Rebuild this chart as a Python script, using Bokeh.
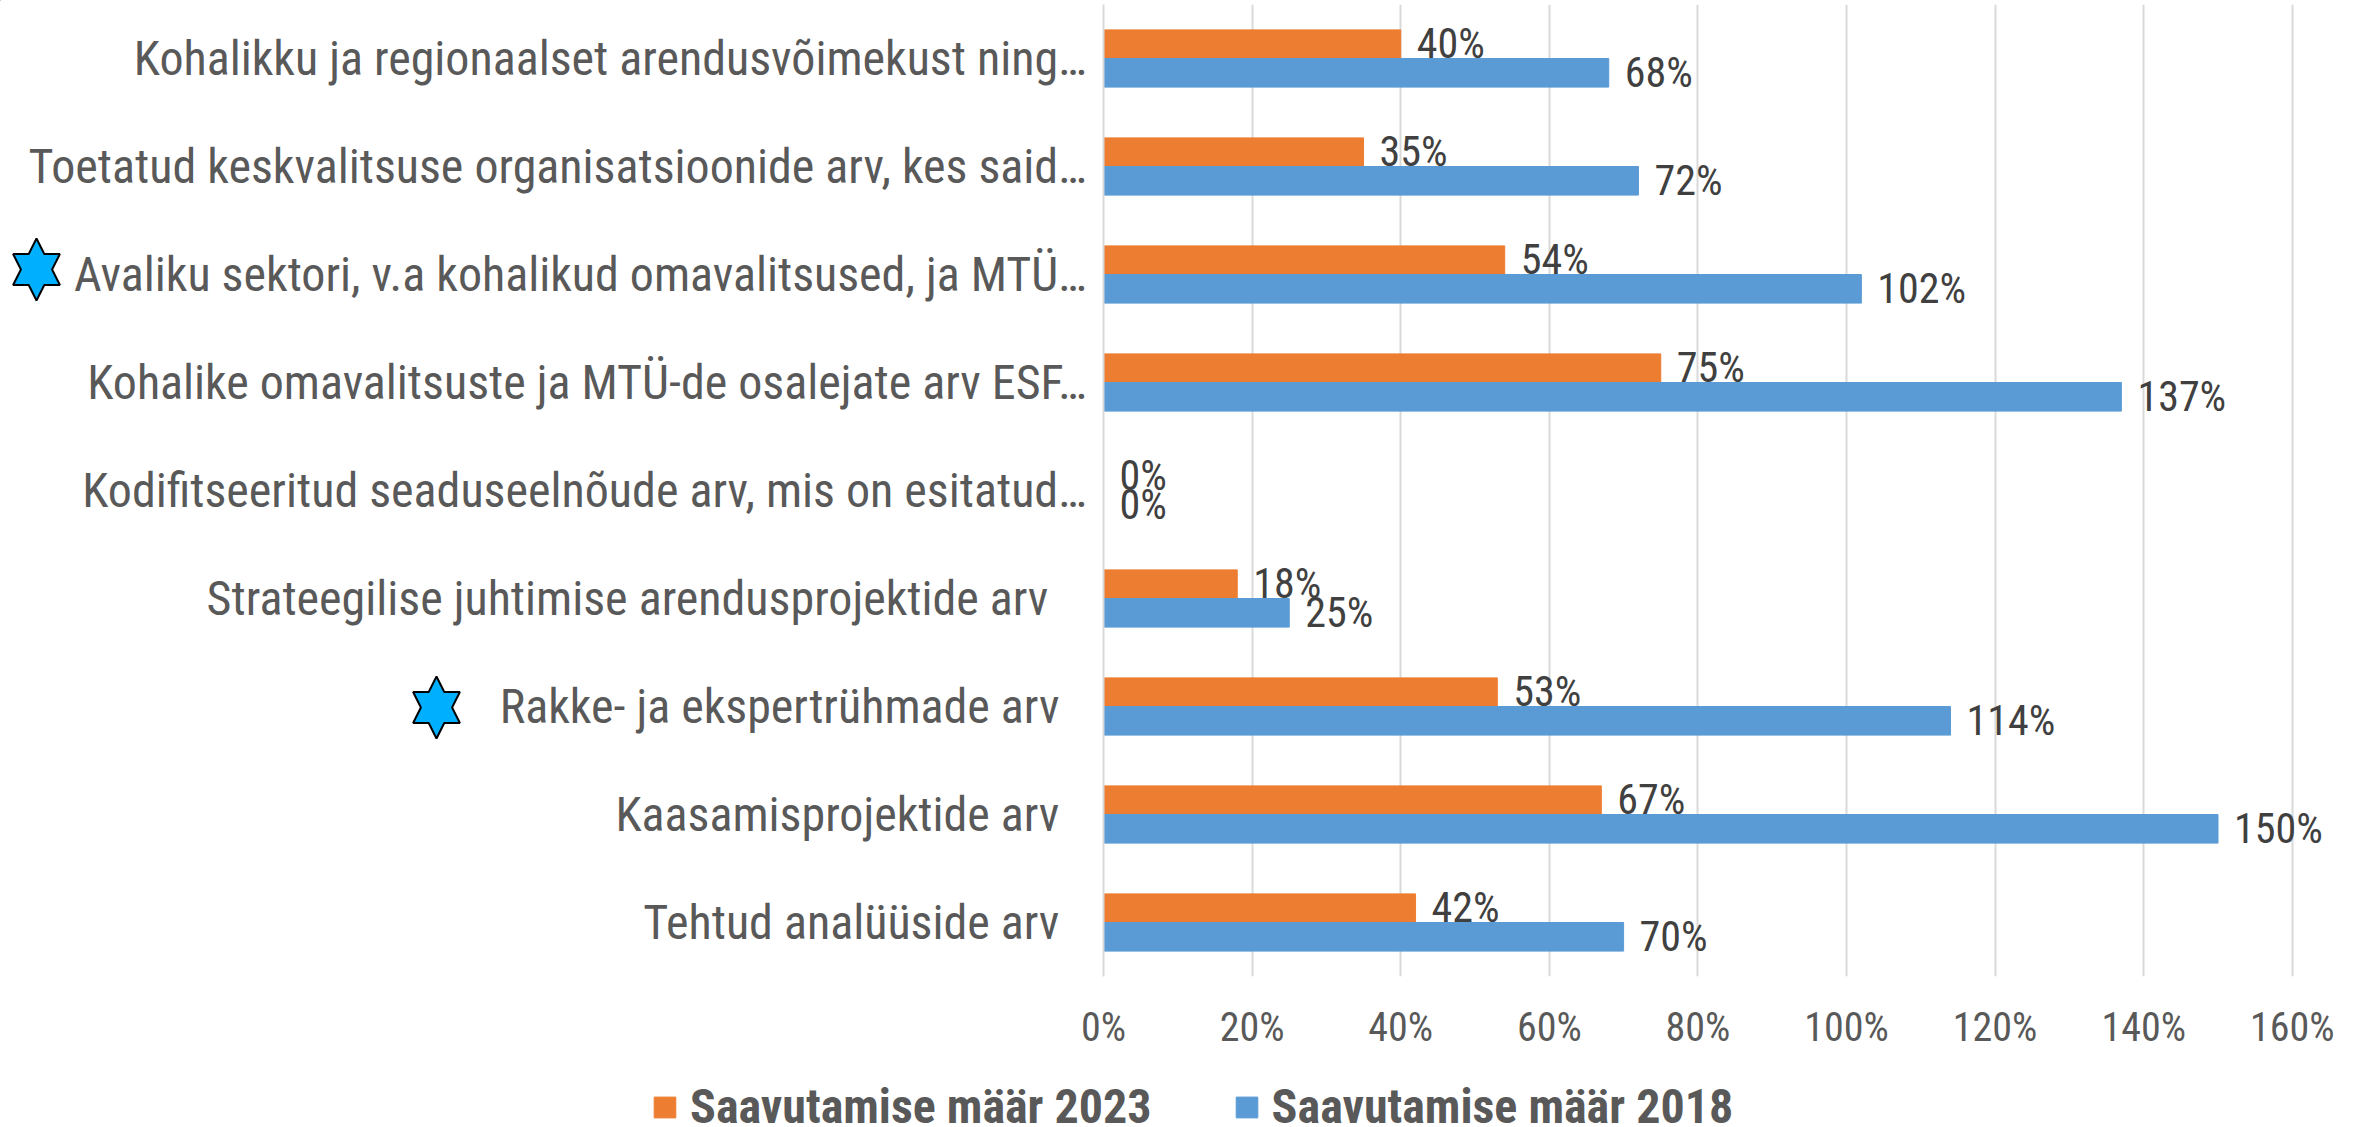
from bokeh.plotting import figure
from bokeh.models import Range1d, FixedTicker, PrintfTickFormatter, Legend, LegendItem, ColumnDataSource
from bokeh.core.properties import value
from bokeh.embed import file_html
from bokeh.resources import INLINE
import math

NB = "\u00a0"
HS = "\u200a"
categories = [
    "Kohalikku ja regionaalset arendusvõimekust ning…",
    "Toetatud keskvalitsuse organisatsioonide arv, kes said…",
    "Avaliku sektori, v.a kohalikud omavalitsused, ja MTÜ…",
    "Kohalike omavalitsuste ja MTÜ-de osalejate arv ESF…",
    "Kodifitseeritud seaduseelnõude arv, mis on esitatud…",
    "Strateegilise juhtimise arendusprojektide arv" + NB * 3 + HS,
    "Rakke- ja ekspertrühmade arv" + NB * 2 + HS,
    "Kaasamisprojektide arv" + NB * 2 + HS,
    "Tehtud analüüside arv" + NB * 2 + HS,
]
rate_2023 = [40, 35, 54, 75, 0, 18, 53, 67, 42]
rate_2018 = [68, 72, 102, 137, 0, 25, 114, 150, 70]
series_names = ["Saavutamise määr 2023", "Saavutamise määr 2018"]
x_ticks = [0, 20, 40, 60, 80, 100, 120, 140, 160]

FONT = "Roboto Condensed"
TXT = "#595959"
ORANGE, BLUE = "#ED7D31", "#5B9BD5"
BAR = 0.265
W, H = 2355, 1127
LEFT = 1103
TOP = 4
BOTTOM = 976
PX_PER = 7.43

p = figure(width=W, height=H, output_backend="svg", toolbar_location=None,
           x_range=Range1d(0, (W - LEFT) / PX_PER), y_range=Range1d(8.5, -0.5),
           min_border_left=LEFT, min_border_right=0, min_border_top=TOP, min_border_bottom=H - BOTTOM)
p.outline_line_color = None
p.background_fill_color = "white"

ys = list(range(len(categories)))
src = ColumnDataSource(dict(y=ys, y23=[y - BAR / 2 for y in ys], y18=[y + BAR / 2 for y in ys],
                            r23=rate_2023, r18=rate_2018,
                            l23=[f"{v}%" for v in rate_2023], l18=[f"{v}%" for v in rate_2018]))
p.hbar(y="y23", right="r23", left=0, height=BAR, color=ORANGE, source=src)
p.hbar(y="y18", right="r18", left=0, height=BAR, color=BLUE, source=src)

lab = dict(text_font=value(FONT), text_font_size="42px", text_color="#404040",
           text_baseline="middle", text_align="left", x_offset=16, source=src)
p.text(x="r23", y="y23", text="l23", y_offset=-1, **lab)
p.text(x="r18", y="y18", text="l18", y_offset=0, **lab)

xa = p.xaxis[0]
xa.ticker = FixedTicker(ticks=x_ticks)
xa.formatter = PrintfTickFormatter(format="%d%%")
xa.axis_line_color = None
xa.major_tick_line_color = None
xa.minor_tick_line_color = None
xa.major_label_text_font = FONT
xa.major_label_text_font_size = "40px"
xa.major_label_text_color = TXT
xa.major_label_standoff = 21

ya = p.yaxis[0]
ya.ticker = FixedTicker(ticks=ys)
ya.major_label_overrides = {i: c for i, c in enumerate(categories)}
ya.axis_line_color = "#D9D9D9"
ya.axis_line_width = 2
ya.major_tick_line_color = None
ya.minor_tick_line_color = None
ya.major_label_text_font = FONT
ya.major_label_text_font_size = "48px"
ya.major_label_text_color = TXT
ya.major_label_standoff = 11

p.ygrid.grid_line_color = None
p.xgrid.grid_line_color = "#D9D9D9"
p.xgrid.grid_line_width = 2
p.xgrid.ticker = FixedTicker(ticks=x_ticks)

# transparent full-page layer for what lies outside the plot frame
q = figure(width=W, height=H, output_backend="svg", toolbar_location=None,
           x_range=Range1d(0, W), y_range=Range1d(H, 0), x_axis_type=None, y_axis_type=None,
           min_border=0, background_fill_alpha=0, border_fill_alpha=0, outline_line_color=None,
           margin=(-H, 0, 0, 0))
q.grid.visible = False

def star(cx, cy, rx, ry):
    xs, yy = [], []
    for i in range(12):
        a = math.pi * i / 6
        f = 1.0 if i % 2 == 0 else 0.577
        xs.append(cx + rx * f * math.sin(a))
        yy.append(cy - ry * f * math.cos(a))
    return xs, yy

for cx, cy in [(36, 269), (436, 707)]:
    sx, sy = star(cx, cy, 27, 31)
    q.patch(sx, sy, fill_color="#00B0FF", line_color="black", line_width=2)

# legend-only renderers, lying outside the visible range of this layer
off = ColumnDataSource(dict(y=[-500], right=[-500]))
d1 = q.hbar(y="y", right="right", left=-600, height=1, color=ORANGE, source=off)
d2 = q.hbar(y="y", right="right", left=-600, height=1, color=BLUE, source=off)
legend = Legend(items=[LegendItem(label=series_names[0], renderers=[d1]),
                       LegendItem(label=series_names[1], renderers=[d2])],
                orientation="horizontal", location=(651, -8), border_line_color=None,
                background_fill_alpha=0, label_text_font=FONT, label_text_font_size="48px",
                label_text_font_style="bold", label_text_color=TXT,
                glyph_width=27, glyph_height=26, label_standoff=12, spacing=81, padding=0, margin=0)
q.add_layout(legend, "center")

open("out.html", "w").write(file_html([p, q], INLINE))
